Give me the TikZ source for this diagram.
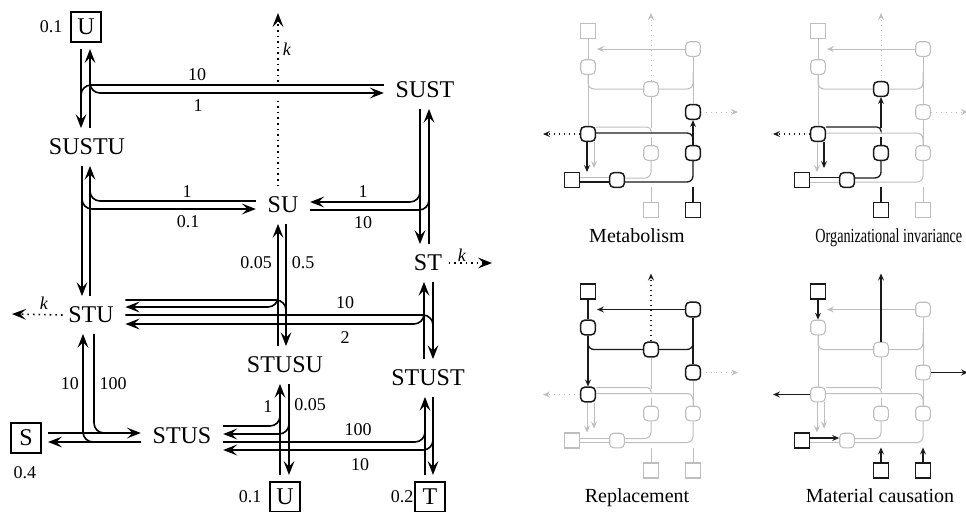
\documentclass[tikz,border=0pt]{standalone}
\usepackage{fontspec}
\setmainfont{Liberation Serif}
\usetikzlibrary{arrows.meta,calc}
\definecolor{palegray}{HTML}{BEBEBE}
\definecolor{inkgray}{HTML}{1A1A1A}

\tikzset{
  species/.style={inner xsep=5.5pt,inner ysep=5pt,font=\fontsize{12}{14}\selectfont},
  pool/.style={draw,line width=0.7pt,minimum size=15pt,inner sep=0pt,outer sep=3.5pt,font=\fontsize{12}{14}\selectfont},
  rate/.style={font=\fontsize{9}{10}\selectfont},
  caption/.style={font=\fontsize{10}{12}\selectfont,anchor=base},
  pale/.style={draw=palegray,line width=0.5pt},
  dark/.style={draw=inkgray,line width=0.65pt},
  pale node/.style={draw=palegray,fill=white,line width=0.55pt},
  dark node/.style={draw=inkgray,fill=white,line width=0.75pt},
  cplx/.style={rounded corners=2pt,minimum size=7.3pt,inner sep=0pt,pale node},
  sq/.style={minimum size=7.5pt,inner sep=0pt,pale node},
  % what a panel may turn dark
  nd u1/.style={}, nd sustu/.style={}, nd sust/.style={}, nd su/.style={},
  nd st/.style={}, nd stu/.style={}, nd stusu/.style={}, nd stust/.style={},
  nd stus/.style={}, nd s/.style={}, nd u2/.style={}, nd t/.style={},
  ln ut/.style={}, ln sustl/.style={}, ln sustu stu/.style={}, ln su curve/.style={},
  ln sust st/.style={}, ln su up/.style={}, ln st right/.style={}, ln stu left/.style={},
  ln stu stusu/.style={}, ln stusu su/.style={}, ln stu stust/.style={}, ln stust st/.style={},
  ln stu a/.style={}, ln stu b/.style={}, ln s stus a/.style={}, ln s stus b/.style={},
  ln stus stusu/.style={}, ln stus stust/.style={}, ln ub/.style={}, ln t/.style={},
}

% the small copy of the network
\newcommand\smallnet[1]{%
  \node[sq,nd u1] (#1-u1) at (68,31) {};
  \node[cplx,nd sustu] (#1-sustu) at (68,67) {};
  \node[cplx,nd sust] (#1-sust) at (173,49) {};
  \node[cplx,nd su] (#1-su) at (131,89) {};
  \node[cplx,nd st] (#1-st) at (173,112) {};
  \node[cplx,nd stu] (#1-stu) at (68,134) {};
  \node[cplx,nd stusu] (#1-stusu) at (131,153) {};
  \node[cplx,nd stust] (#1-stust) at (173,153) {};
  \node[cplx,nd stus] (#1-stus) at (97,180) {};
  \node[sq,nd s] (#1-s) at (52,180) {};
  \node[sq,nd u2] (#1-u2) at (131,210) {};
  \node[sq,nd t] (#1-t) at (173,210) {};
  \draw[pale,ln ut] (#1-u1) -- (#1-sustu);
  \draw[pale,->,ln sustl] (#1-sust) -- (77,49);
  \draw[pale,ln sustu stu] (#1-sustu) -- (#1-stu);
  \draw[pale,rounded corners=3pt,ln su curve] (68,75) |- (#1-su);
  \draw[pale,rounded corners=3pt,ln su curve] (#1-su) -| (173,72);
  \draw[pale,ln sust st] (#1-sust) -- (#1-st);
  \draw[pale,dotted,->,ln su up] (#1-su) -- (131,13);
  \draw[pale,dotted,->,ln st right] (#1-st) -- (218,112);
  \draw[pale,dotted,->,ln stu left] (#1-stu) -- (23,134);
  \draw[pale,rounded corners=2pt,ln stu stusu] (#1-stu.east |- 0,127) -| (131,130);
  \draw[pale,ln stu stusu] (131,137) -- (#1-stusu);
  \draw[pale,ln stusu su] (131,128) -- (#1-su);
  \draw[pale,rounded corners=3pt,ln stu stust] (#1-stu.east |- 0,133) -| (#1-stust);
  \draw[pale,ln stust st] (#1-stust) -- (#1-st);
  \draw[pale,->,ln stu a] (#1-stu.south -| 67,0) -- (67,172);
  \draw[pale,->,ln stu b] (#1-stu.south -| 74,0) -- (74,168);
  \draw[pale,ln s stus a] (#1-s.east |- 0,177.5) -- (#1-stus.west |- 0,177.5);
  \draw[pale,ln s stus b] (#1-s.east |- 0,182) -- (#1-stus.west |- 0,182);
  \draw[pale,rounded corners=3pt,ln stus stusu] (#1-stus.east |- 0,178) -| (#1-stusu);
  \draw[pale,rounded corners=3pt,ln stus stust] (#1-stus.east |- 0,182) -| (#1-stust);
  \draw[pale,ln ub] (#1-u2) -- (131,187);
  \draw[pale,ln t] (#1-t) -- (173,187);
}

\begin{document}
\begin{tikzpicture}[x=0.5pt,y=-0.5pt,line width=0.8pt,
    >={Stealth[length=7pt,width=5.4pt,inset=2.8pt]}]
  \useasboundingbox (0,0) rectangle (966,511);

  % species and pools
  \node[species] (SUSTU) at (87,147) {SUSTU};
  \node[species] (SUST) at (425,90) {SUST};
  \node[species] (SU) at (283,205) {SU};
  \node[species] (ST) at (428,263) {ST};
  \node[species] (STU) at (91,315) {STU};
  \node[species] (STUSU) at (285,365) {STUSU};
  \node[species] (STUST) at (428,378) {STUST};
  \node[species] (STUS) at (182,436) {STUS};
  \node[pool] (U1) at (86,27) {U};
  \node[pool] (S) at (26,438) {S};
  \node[pool] (U2) at (285,497) {U};
  \node[pool] (T) at (430,497) {T};

  % U + SUST <-> SUSTU
  \draw[->] (U1.south -| 81,0) -- (SUSTU.north -| 81,0);
  \draw[->] (SUSTU.north -| 90,0) -- (U1.south -| 90,0);
  \draw[rounded corners=5pt] (SUST.west |- 0,85) -| (81,105);
  \draw[->,rounded corners=5pt] (90,70) |- (SUST.west |- 0,93);
  % SU + STU <-> SUSTU
  \draw[->] (STU.north -| 90,0) -- (SUSTU.south -| 90,0);
  \draw[rounded corners=5pt] (SU.west |- 0,201) -| (90,180);
  \draw[->] (SUSTU.south -| 82,0) -- (STU.north -| 82,0);
  \draw[->,rounded corners=5pt] (82,185) |- (SU.west |- 0,209);
  % SUST <-> SU + ST
  \draw[->] (SUST.south -| 420,0) -- (ST.north -| 420,0);
  \draw[->,rounded corners=5pt] (420,180) |- (SU.east |- 0,202);
  \draw[->] (ST.north -| 429,0) -- (SUST.south -| 429,0);
  \draw[rounded corners=5pt] (SU.east |- 0,210) -| (429,190);
  % STU + SU <-> STUSU
  \draw[->] (STUSU.north -| 278,0) -- (SU.south -| 278,0);
  \draw[->] (SU.south -| 286,0) -- (STUSU.north -| 286,0);
  \draw[rounded corners=5pt] (STU.east |- 0,300) -| (286,320);
  \draw[->,rounded corners=5pt] (278,285) |- (STU.east |- 0,307);
  % STU + ST <-> STUST
  \draw[->] (STUST.north -| 424,0) -- (ST.south -| 424,0);
  \draw[->] (ST.south -| 433,0) -- (STUST.north -| 433,0);
  \draw[rounded corners=5pt] (STU.east |- 0,315) -| (433,340);
  \draw[->,rounded corners=5pt] (424,300) |- (STU.east |- 0,324);
  % S + STU <-> STUS
  \draw[->] (S.east |- 0,433) -- (STUS.west |- 0,433);
  \draw[rounded corners=5pt] (STU.south -| 94,0) |- (120,433);
  \draw[->] (STUS.west |- 0,442) -- (S.east |- 0,442);
  \draw[->,rounded corners=5pt] (115,442) -| (STU.south -| 83,0);
  % STUS + U <-> STUSU
  \draw[->] (U2.north -| 280,0) -- (STUSU.south -| 280,0);
  \draw[->] (STUSU.south -| 289,0) -- (U2.north -| 289,0);
  \draw[rounded corners=5pt] (STUS.east |- 0,426) -| (280,405);
  \draw[->,rounded corners=5pt] (289,410) |- (STUS.east |- 0,434);
  % STUS + T <-> STUST
  \draw[->] (T.north -| 425,0) -- (STUST.south -| 425,0);
  \draw[->] (STUST.south -| 433,0) -- (T.north -| 433,0);
  \draw[rounded corners=5pt] (STUS.east |- 0,442) -| (425,420);
  \draw[->,rounded corners=5pt] (433,425) |- (STUS.east |- 0,450);

  % decay
  \coordinate (kSU) at (278,13);
  \coordinate (kST) at (492,263);
  \coordinate (kSTU) at (12,314);
  \draw[dotted] (SU.north -| 278,0) -- (278,97);
  \draw[dotted,->] (278,82) -- (kSU);
  \draw[dotted,->] ($(ST.east)+(-5,0)$) -- (kST);
  \draw[dotted,->] ($(STU.west)+(6,0)$) -- (kSTU);
  \node[rate] (k1) at (287,49) {\textit{k}};
  \node[rate] (k2) at (462,255) {\textit{k}};
  \node[rate] (k3) at (44,303) {\textit{k}};

  % rates
  \node[rate] (r1) at (51,27) {0.1};
  \node[rate] (r2) at (197,75) {10};
  \node[rate] (r3) at (198,106) {1};
  \node[rate] (r4) at (187,192) {1};
  \node[rate] (r5) at (188,222) {0.1};
  \node[rate] (r6) at (363,192) {1};
  \node[rate] (r7) at (363,223) {10};
  \node[rate] (r8) at (256,263) {0.05};
  \node[rate] (r9) at (303,263) {0.5};
  \node[rate] (r10) at (345,303) {10};
  \node[rate] (r11) at (345,338) {2};
  \node[rate] (r12) at (70,384) {10};
  \node[rate] (r13) at (113,384) {100};
  \node[rate] (r14) at (268,407) {1};
  \node[rate] (r15) at (310,405) {0.05};
  \node[rate] (r16) at (358,430) {100};
  \node[rate] (r17) at (360,465) {10};
  \node[rate] (r18) at (25,473) {0.4};
  \node[rate] (r19) at (250,497) {0.1};
  \node[rate] (r20) at (402,497) {0.2};

  % the four small panels
  \begin{scope}[shift={(520,0)},>={Stealth[length=3.5pt,width=3pt,inset=1.3pt]},
      nd st/.style={dark node}, nd stu/.style={dark node}, nd stust/.style={dark node},
      nd stus/.style={dark node}, nd s/.style={dark node}, nd t/.style={dark node},
      ln stu left/.style={dark}, ln stu stust/.style={dark}, ln stust st/.style={dark,->},
      ln stu a/.style={dark}, ln s stus b/.style={dark}, ln stus stust/.style={dark},
      ln t/.style={dark}]
    \smallnet{m}
  \end{scope}
  \node[caption] (capm) at (637,242) {Metabolism};

  \begin{scope}[shift={(750,0)},>={Stealth[length=3.5pt,width=3pt,inset=1.3pt]},
      nd su/.style={dark node}, nd stu/.style={dark node}, nd stusu/.style={dark node},
      nd stus/.style={dark node}, nd s/.style={dark node}, nd u2/.style={dark node},
      ln stu left/.style={dark}, ln stu stusu/.style={dark}, ln stusu su/.style={dark,->},
      ln stu b/.style={dark}, ln s stus a/.style={dark}, ln stus stusu/.style={dark},
      ln ub/.style={dark}]
    \smallnet{o}
  \end{scope}
  \node[caption,anchor=base west] (capo) at (808,242) {\scalebox{0.71}[1]{Organizational invariance}};

  \begin{scope}[shift={(520,260.5)},>={Stealth[length=3.5pt,width=3pt,inset=1.3pt]},
      nd u1/.style={dark node}, nd sustu/.style={dark node}, nd sust/.style={dark node},
      nd su/.style={dark node}, nd st/.style={dark node}, nd stu/.style={dark node},
      ln ut/.style={dark}, ln sustl/.style={dark}, ln sustu stu/.style={dark,->},
      ln su curve/.style={dark}, ln sust st/.style={dark}, ln su up/.style={dark}]
    \smallnet{r}
  \end{scope}
  \node[caption] (capr) at (637,502) {Replacement};

  \begin{scope}[shift={(750,260.5)},>={Stealth[length=3.5pt,width=3pt,inset=1.3pt]},
      nd u1/.style={dark node}, nd s/.style={dark node}, nd u2/.style={dark node},
      nd t/.style={dark node},
      ln ut/.style={dark,->}, ln su up/.style={dark,solid}, ln st right/.style={dark,solid},
      ln stu left/.style={dark,solid}, ln s stus a/.style={dark,->},
      ln ub/.style={dark,->}, ln t/.style={dark,->}]
    \smallnet{c}
  \end{scope}
  \node[caption] (capc) at (880,502) {Material causation};
\end{tikzpicture}
\end{document}
